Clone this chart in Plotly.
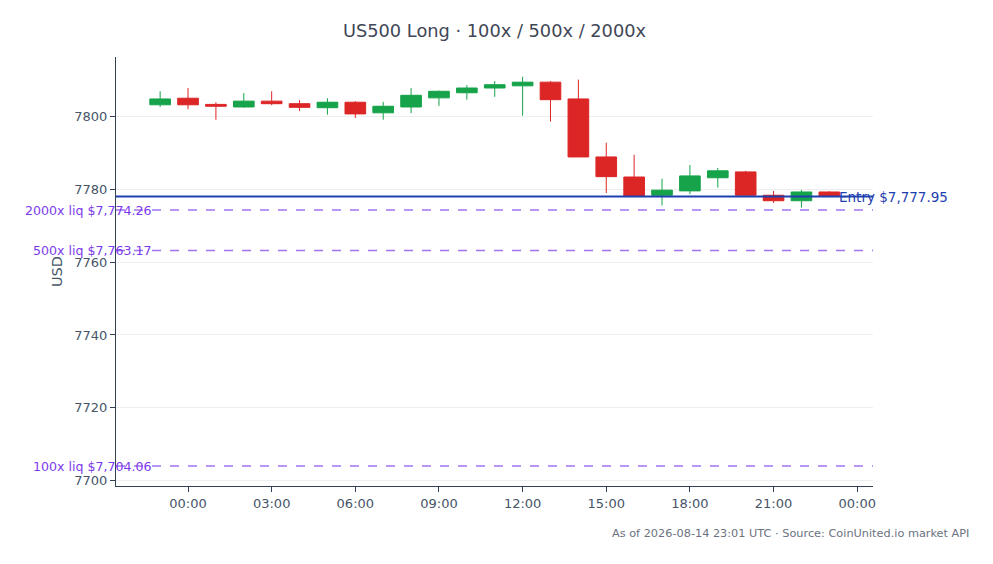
import pandas as pd
import plotly.graph_objects as go

# 1時間足 (2026-08-13 23:00 UTC 〜 2026-08-14 23:00 UTC)
times = pd.date_range("2026-08-13 23:00", "2026-08-14 23:00", freq="h")

opens = [7803.1, 7804.9, 7803.2, 7802.5, 7804.1, 7803.4, 7802.3, 7803.8, 7800.9,
         7802.5, 7805.0, 7806.4, 7807.7, 7808.3, 7809.3, 7804.7, 7788.8, 7783.3,
         7778.3, 7779.5, 7783.1, 7784.7, 7778.3, 7776.8, 7779.2]
highs = [7806.8, 7807.7, 7803.8, 7806.3, 7806.8, 7804.4, 7804.9, 7804.1, 7803.9,
         7807.7, 7807.0, 7808.5, 7809.6, 7810.8, 7809.6, 7810.0, 7792.7, 7789.4,
         7782.8, 7786.6, 7785.8, 7785.0, 7779.5, 7779.8, 7779.4]
lows = [7802.5, 7801.9, 7799.0, 7802.3, 7803.0, 7801.4, 7800.4, 7799.5, 7799.0,
        7800.8, 7802.8, 7804.5, 7805.3, 7800.1, 7798.5, 7788.8, 7778.9, 7777.9,
        7775.5, 7778.6, 7780.4, 7777.8, 7776.2, 7774.9, 7777.9]
closes = [7804.7, 7803.1, 7802.7, 7804.1, 7803.4, 7802.4, 7803.8, 7800.6, 7802.7,
          7805.7, 7806.8, 7807.7, 7808.6, 7809.3, 7804.5, 7788.8, 7783.4, 7778.1,
          7779.7, 7783.6, 7785.0, 7778.3, 7776.8, 7779.2, 7778.0]

entry_price = 7777.95
liq_labels = ["2000x", "500x", "100x"]
liq_prices = [7774.26, 7763.17, 7704.06]

tick_times = pd.date_range("2026-08-14 00:00", "2026-08-15 00:00", freq="3h")

GREEN = "#16a34a"
RED = "#dc2626"
BLUE = "#1e40af"
PURPLE = "#7c3aed"

fig = go.Figure(go.Candlestick(
    x=times, open=opens, high=highs, low=lows, close=closes,
    increasing=dict(line=dict(color=GREEN, width=1), fillcolor=GREEN),
    decreasing=dict(line=dict(color=RED, width=1), fillcolor=RED),
    showlegend=False,
))

# エントリーライン
fig.add_shape(type="line", xref="paper", x0=0, x1=1, y0=entry_price, y1=entry_price,
              line=dict(color=BLUE, width=2))
fig.add_annotation(xref="paper", x=1, xanchor="left", xshift=-36, y=entry_price,
                   yanchor="middle", text=f"Entry ${entry_price:,.2f}", showarrow=False,
                   font=dict(color=BLUE, size=13.5))

# 清算ライン
for lab, p in zip(liq_labels, liq_prices):
    fig.add_shape(type="line", xref="paper", x0=0, x1=1, y0=p, y1=p,
                  line=dict(color=PURPLE, width=1.5, dash="dash"), opacity=0.7)
    fig.add_annotation(xref="paper", x=0, xanchor="right", xshift=38, y=p,
                       yanchor="middle", text=f"{lab} liq ${p:,.2f}", showarrow=False,
                       font=dict(color=PURPLE, size=12.6))

fig.add_annotation(xref="paper", yref="paper", x=1.12, y=-0.095, xanchor="right",
                   yanchor="top", xshift=7, yshift=2, showarrow=False,
                   text="As of 2026-08-14 23:01 UTC · Source: CoinUnited.io market API",
                   font=dict(color="#6b7280", size=11.3))

fig.update_layout(
    title=dict(text="US500 Long · 100x / 500x / 2000x", x=0.5, xref="paper", xanchor="center",
               y=0.959, yanchor="middle", font=dict(size=17.8, color="#3f4756")),
    width=993, height=564,
    margin=dict(l=108, r=128, t=49, b=86),
    paper_bgcolor="white", plot_bgcolor="white",
    boxgap=0.26, boxgroupgap=0,
    font=dict(family="DejaVu Sans", color="#475569", size=13),
    xaxis=dict(rangeslider=dict(visible=False), showgrid=False,
               range=["2026-08-13 21:25", "2026-08-15 00:34"],
               tickvals=tick_times, ticktext=[t.strftime("%H:%M") for t in tick_times],
               showline=True, linecolor="#334155", linewidth=1,
               ticks="outside", tickcolor="#334155", ticklen=5),
    yaxis=dict(title=dict(text="USD", font=dict(size=14.5), standoff=8),
               range=[7698.6, 7816.2],
               dtick=20, showgrid=True, gridcolor="#eeeeee", zeroline=False,
               showline=True, linecolor="#334155", linewidth=1,
               ticks="outside", tickcolor="#334155", ticklen=5),
)

fig.write_html("out.html")
